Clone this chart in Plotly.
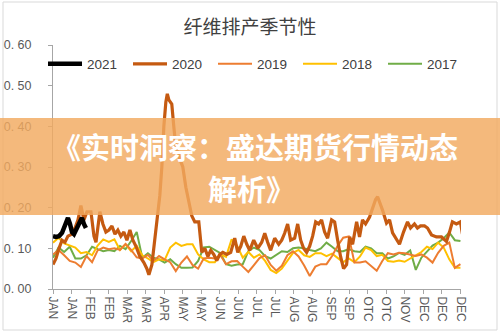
import plotly.graph_objects as go

# ---------------- data ----------------
month_labels = ["JAN", "JAN", "FEB", "FEB", "MAR", "MAR", "APR", "MAY", "MAY", "JUN", "JUN",
                "JUL", "JUL", "AUG", "AUG", "SEP", "SEP", "OTC", "OTC", "NOV", "DEC", "DEC", "DEC"]
y_ticks = [0.0, 0.1, 0.2, 0.3, 0.4, 0.5, 0.6]
y_tick_text = ["0. 00", "0. 10", "0. 20", "0. 30", "0. 40", "0. 50", "0. 60"]

days_5 = list(range(0, 366, 5))

v2019 = [0.085, 0.096, 0.083, 0.069, 0.065, 0.054, 0.081, 0.066, 0.095, 0.102,
         0.098, 0.100, 0.096, 0.111, 0.096, 0.078, 0.075, 0.084, 0.069, 0.081,
         0.073, 0.066, 0.044, 0.065, 0.080, 0.059, 0.050, 0.075, 0.077, 0.075,
         0.083, 0.061, 0.068, 0.069, 0.055, 0.042, 0.059, 0.076, 0.083, 0.059,
         0.045, 0.057, 0.083, 0.093, 0.080, 0.058, 0.032, 0.055, 0.061, 0.061,
         0.081, 0.106, 0.126, 0.129, 0.065, 0.065, 0.068, 0.057, 0.045, 0.069,
         0.088, 0.085, 0.089, 0.088, 0.085, 0.081, 0.085, 0.077, 0.065, 0.089,
         0.106, 0.114, 0.052, 0.061]

v2018 = [0.114, 0.126, 0.112, 0.106, 0.102, 0.088, 0.091, 0.083, 0.107, 0.122,
         0.116, 0.122, 0.096, 0.110, 0.093, 0.106, 0.083, 0.075, 0.066, 0.073,
         0.071, 0.102, 0.114, 0.106, 0.110, 0.110, 0.085, 0.073, 0.066, 0.066,
         0.085, 0.079, 0.122, 0.106, 0.077, 0.091, 0.077, 0.085, 0.069, 0.047,
         0.039, 0.050, 0.071, 0.089, 0.096, 0.083, 0.079, 0.088, 0.088, 0.081,
         0.087, 0.077, 0.066, 0.075, 0.066, 0.080, 0.102, 0.096, 0.081, 0.084,
         0.069, 0.067, 0.070, 0.067, 0.076, 0.083, 0.091, 0.104, 0.098, 0.114,
         0.102, 0.073, 0.052, 0.052]

v2017 = [0.077, 0.102, 0.091, 0.104, 0.075, 0.075, 0.083, 0.104, 0.098, 0.093,
         0.096, 0.093, 0.106, 0.098, 0.118, 0.140, 0.077, 0.088, 0.077, 0.073,
         0.065, 0.073, 0.061, 0.052, 0.052, 0.053, 0.069, 0.102, 0.104, 0.096,
         0.088, 0.061, 0.057, 0.060, 0.061, 0.093, 0.102, 0.096, 0.081, 0.075,
         0.084, 0.093, 0.091, 0.100, 0.102, 0.100, 0.096, 0.093, 0.100, 0.114,
         0.104, 0.093, 0.093, 0.098, 0.093, 0.091, 0.104, 0.100, 0.088, 0.088,
         0.075, 0.080, 0.089, 0.084, 0.095, 0.047, 0.077, 0.093, 0.107, 0.114,
         0.125, 0.139, 0.120, 0.118]

d2020 = [0, 2.7, 5.4, 8.1, 10.7, 13.4, 17.0, 19.7, 22.4, 25.0, 27.7, 30.4, 34.0, 36.7, 38.5,
         42.0, 44.7, 47.4, 50.1, 52.8, 55.5, 58.1, 60.8, 63.5, 66.2, 68.9, 71.6, 74.3, 77.8,
         81.4, 84.1, 85.9, 88.6, 91.2, 93.9, 95.7, 97.5, 99.3, 101.1, 102.4, 103.8, 106.4,
         108.2, 110.0, 113.6, 116.3, 119.0, 121.7, 124.3, 127.0, 130.6, 133.3, 136.0, 138.7,
         141.3, 144.0, 146.7, 149.4, 152.1, 155.7, 159.2, 162.8, 165.5, 168.2, 170.9, 173.6,
         176.2, 179.8, 183.4, 187.0, 189.7, 192.3, 195.0, 198.6, 202.2, 204.9, 207.5, 210.2,
         212.9, 216.5, 219.2, 221.9, 224.5, 227.2, 229.9, 232.6, 235.3, 238.0, 240.6, 243.3,
         246.0, 249.6, 252.3, 255.0, 257.6, 260.3, 263.0, 265.7, 268.4, 272.0, 274.6, 277.3,
         280.0, 283.6, 286.3, 289.0, 290.8, 292.5, 295.2, 298.8, 301.5, 304.2, 307.7, 310.4,
         314.0, 317.6, 320.3, 323.8, 326.5, 329.2, 332.8, 335.5, 339.1, 343.5, 348.0, 352.5,
         355.2, 357.8, 361.4, 365.0, 366.8]
v2020 = [0.060, 0.075, 0.100, 0.120, 0.115, 0.130, 0.135, 0.150, 0.170, 0.205, 0.170, 0.190,
         0.190, 0.130, 0.115, 0.190, 0.160, 0.140, 0.145, 0.155, 0.135, 0.145, 0.130, 0.140,
         0.120, 0.145, 0.120, 0.105, 0.080, 0.065, 0.050, 0.035, 0.060, 0.120, 0.190, 0.230,
         0.300, 0.400, 0.460, 0.480, 0.465, 0.455, 0.400, 0.350, 0.320, 0.300, 0.250, 0.210,
         0.180, 0.165, 0.165, 0.090, 0.100, 0.080, 0.095, 0.085, 0.070, 0.085, 0.090, 0.085,
         0.090, 0.125, 0.090, 0.105, 0.130, 0.110, 0.095, 0.120, 0.100, 0.115, 0.137, 0.115,
         0.095, 0.125, 0.110, 0.120, 0.137, 0.160, 0.120, 0.125, 0.160, 0.120, 0.100, 0.090,
         0.105, 0.130, 0.165, 0.160, 0.170, 0.140, 0.125, 0.170, 0.165, 0.120, 0.080, 0.050,
         0.060, 0.128, 0.110, 0.165, 0.128, 0.170, 0.160, 0.177, 0.200, 0.220, 0.227, 0.215,
         0.194, 0.162, 0.170, 0.138, 0.120, 0.110, 0.140, 0.165, 0.150, 0.160, 0.150, 0.155,
         0.155, 0.150, 0.133, 0.128, 0.128, 0.117, 0.140, 0.165, 0.160, 0.165, 0.135]

d2021 = [0, 2.7, 5.4, 8.1, 9.8, 11.6, 13.4, 15.2, 17.0, 18.8, 21.5, 24.2, 25.9, 27.7, 29.5]
v2021 = [0.130, 0.128, 0.130, 0.138, 0.150, 0.165, 0.175, 0.160, 0.140, 0.135, 0.150,
         0.165, 0.175, 0.160, 0.150]

# ---------------- figure ----------------
W, H = 500, 334
PL, PR, T, B = 30, 20, 45, 45          # paper box: x 30..480, y 45..289
PW, PH = W - PL - PR, H - T - B
AX0, AX1 = 53, 461                      # x-axis pixel extent inside the paper box


def px(xp):
    return (xp - PL) / PW


def py(yp):
    return (H - B - yp) / PH


fig = go.Figure()
series = [
    ("2017", days_5, v2017, "#70AD47", 2),
    ("2018", days_5, v2018, "#FFC000", 2),
    ("2019", days_5, v2019, "#ED7D31", 2),
    ("2020", d2020, v2020, "#C55A11", 3.2),
    ("2021", d2021, v2021, "#000000", 4.5),
]
for name, xs, ys, col, w in series:
    fig.add_trace(go.Scatter(x=xs, y=ys, name=name, mode="lines",
                             line=dict(color=col, width=w)))

n = len(month_labels)
tickvals = [i * 365 / (n - 1) for i in range(n)]

axis_col = "#A6A6A6"
tick_font = dict(family="Liberation Sans, Arial, sans-serif", size=12, color="#595959")

fig.update_layout(
    width=W, height=H,
    margin=dict(l=PL, r=PR, t=T, b=B),
    paper_bgcolor="white", plot_bgcolor="white",
    title=dict(text="纤维排产季节性", x=0.5, xanchor="center", y=1 - 27 / H, yanchor="middle",
               font=dict(family="Noto Sans CJK SC", size=19, color="#404040")),
    showlegend=True,
    legend=dict(orientation="h", traceorder="reversed", x=px(43), xanchor="left",
                y=py(64), yanchor="middle", bgcolor="rgba(0,0,0,0)",
                font=dict(family="Liberation Sans, Arial, sans-serif", size=13.5, color="#404040"),
                itemwidth=34, entrywidth=36, entrywidthmode="pixels"),
    xaxis=dict(domain=[px(AX0), px(AX1)], range=[0, 365.5], tickmode="array",
               tickvals=tickvals, ticktext=month_labels, automargin=False,
               tickangle=90, showgrid=False, zeroline=False, showline=True, linecolor=axis_col,
               linewidth=1, ticks="outside", ticklen=4, tickcolor=axis_col, tickfont=tick_font),
    yaxis=dict(range=[0, 0.6], tickmode="array", tickvals=y_ticks, ticktext=y_tick_text,
               automargin=False,
               showgrid=False, zeroline=False, showline=True, linecolor=axis_col, linewidth=1,
               ticks="outside", ticklen=4, tickcolor=axis_col, ticklabelstandoff=14,
               tickfont=dict(family="Liberation Sans, Arial, sans-serif", size=12.5, color="#595959")),
    shapes=[
        dict(type="rect", xref="paper", yref="paper", x0=px(3), x1=px(497), y0=py(330), y1=py(2),
             line=dict(color="#D9D9D9", width=1), fillcolor="rgba(0,0,0,0)", layer="below"),
        dict(type="rect", xref="paper", yref="paper", x0=px(0), x1=px(500), y0=py(215), y1=py(118),
             line=dict(width=0), fillcolor="rgba(241,170,95,0.82)", layer="above"),
    ],
    annotations=[
        dict(text="<b>《实时洞察：盛达期货行情动态</b>", xref="paper", yref="paper",
             x=px(255), y=py(146), xanchor="center", yanchor="middle", showarrow=False,
             font=dict(family="Noto Sans CJK SC", size=29, color="white")),
        dict(text="<b>解析》</b>", xref="paper", yref="paper",
             x=px(251), y=py(188), xanchor="center", yanchor="middle", showarrow=False,
             font=dict(family="Noto Sans CJK SC", size=29, color="white")),
    ],
)

fig.write_html("out.html")
